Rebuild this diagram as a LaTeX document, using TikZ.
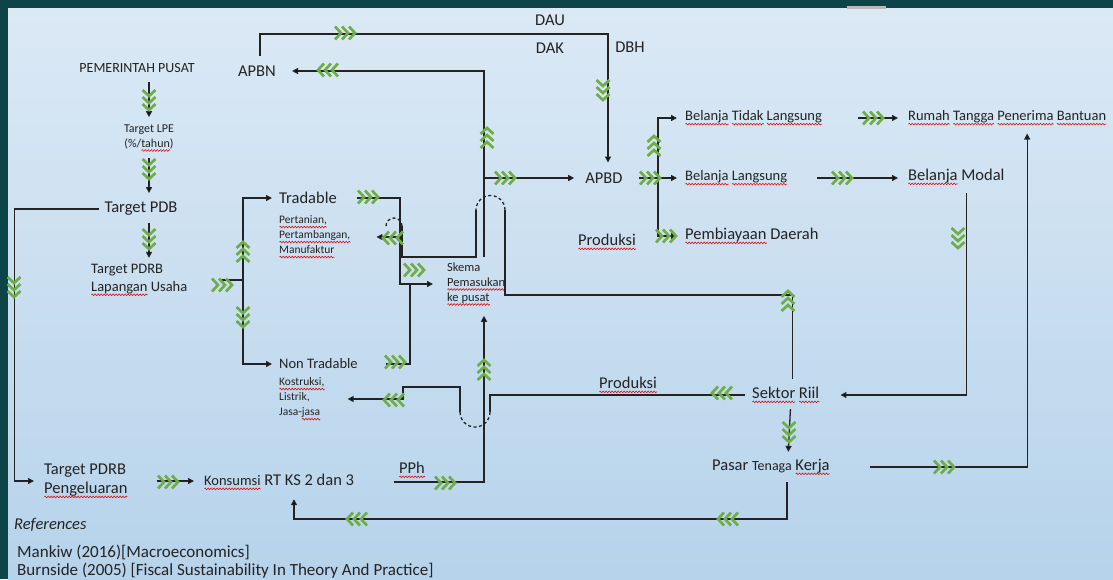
\documentclass[tikz,border=0pt]{standalone}
\usepackage{fontspec}
\setmainfont{Carlito}
\usetikzlibrary{arrows.meta,decorations.pathmorphing}

\definecolor{frame}{RGB}{12,68,72}
\definecolor{chevgreen}{RGB}{112,173,71}
\definecolor{ink}{RGB}{35,35,35}
\definecolor{bgtop}{RGB}{238,244,250}
\definecolor{bgmid}{RGB}{182,211,235}
\definecolor{bgbot}{RGB}{200,222,240}
\pgfdeclareverticalshading{slide}{100bp}{color(0bp)=(bgbot); color(25bp)=(bgmid); color(100bp)=(bgtop)}

% red spell-check wave under a word
\newsavebox{\spellbox}
\newcommand{\spell}[1]{\sbox{\spellbox}{#1}\rlap{\tikz[baseline=0pt]\draw[red!85!black, line width=0.5pt, decorate, decoration={zigzag, segment length=3pt, amplitude=0.9pt}] (0pt,-3.4pt) -- (\wd\spellbox,-3.4pt);}\usebox{\spellbox}}

\tikzset{
  lbl/.style={inner sep=0pt, text=ink, font=\fontsize{16.5}{19}\selectfont},
  lblm/.style={lbl, font=\fontsize{14.5}{18}\selectfont},
  lbls/.style={lbl, font=\fontsize{11.5}{15}\selectfont, align=left},
  flow/.style={draw=ink, line width=1.3pt},
  arr/.style={flow, -{Triangle[length=6pt,width=6pt]}},
  hop/.style={draw=ink, line width=1.3pt, dash pattern=on 3pt off 2.5pt},
  chev/.pic={\foreach \k in {-7,0,7} \draw[chevgreen, line width=2.7pt] (\k-3,-6.5) -- (\k+3,0) -- (\k-3,6.5);}
}

\begin{document}
\begin{tikzpicture}[x=1pt,y=-1pt]
\useasboundingbox (0,0) rectangle (1113,579);

% Slide background
\fill[frame] (0,0) rectangle (1113,579);
\shade[shading=slide] (8,8) rectangle (1113,579);
\fill[gray!55] (847,6) rectangle (886,9);

% Labels
\node[lbl, font=\fontsize{14}{17}\selectfont] (pusat) at (137,68) {PEMERINTAH PUSAT};
\node[lbl, font=\fontsize{12}{15}\selectfont, align=center] (lpe) at (149,138) {Target LPE\\(\%/\spell{tahun})};
\node[lbl] (pdb) at (141,209) {Target PDB};
\node[lblm, anchor=west, align=left] (pdrblu) at (91,280) {Target PDRB\\\spell{Lapangan} Usaha};
\node[lbl, anchor=west, align=left] (pdrbpg) at (44,481) {Target PDRB\\\spell{Pengeluaran}};
\node[lbl] (apbn) at (257,71) {APBN};
\node[lbl] (dau) at (550,20) {DAU};
\node[lbl] (dak) at (550,48) {DAK};
\node[lbl] (dbh) at (630,47) {DBH};
\node[lbl] (apbd) at (604,178) {APBD};
\node[lblm, anchor=west] (btl) at (685,118) {\spell{Belanja} \spell{Tidak} \spell{Langsung}};
\node[lblm, anchor=west] (rtpb) at (908,118) {\spell{Rumah} \spell{Tangga} \spell{Penerima} \spell{Bantuan}};
\node[lblm, anchor=west] (bl) at (685,178) {\spell{Belanja} \spell{Langsung}};
\node[lbl, anchor=west] (bm) at (908,177) {\spell{Belanja} Modal};
\node[lbl, anchor=west] (pd) at (685,236) {\spell{Pembiayaan} Daerah};
\node[lbl, anchor=west] (prod1) at (578,242) {\spell{Produksi}};
\node[lbl, anchor=west] (trad) at (279,198) {Tradable};
\node[lbls, anchor=west] (tradsub) at (279,237) {\spell{Pertanian,}\\\spell{Pertambangan,}\\\spell{Manufaktur}};
\node[lbls, anchor=west, font=\fontsize{12.5}{15}\selectfont] (skema) at (447,284) {Skema\\\spell{Pemasukan}\\\spell{ke pusat}};
\node[lblm, anchor=west] (nontrad) at (279,364) {Non Tradable};
\node[lbls, anchor=west] (ntsub) at (279,399) {\spell{Kostruksi,}\\Listrik,\\Jasa-\spell{jasa}};
\node[lbl, anchor=west] (prod2) at (599,385) {\spell{Produksi}};
\node[lbl, anchor=west] (sektor) at (752,395) {\spell{Sektor} \spell{Riil}};
\node[lbl, anchor=west, font=\fontsize{16.5}{19}\selectfont] (pasar) at (712,467) {Pasar {\fontsize{14}{16}\selectfont Tenaga} \spell{Kerja}};
\node[lbl, anchor=west] (konsumsi) at (204,482) {{\fontsize{14.5}{17}\selectfont\spell{Konsumsi}} RT KS 2 dan 3};
\node[lbl] (pph) at (412,470) {\spell{PPh}};

% References
\node[lbl, anchor=west, font=\fontsize{16.5}{19}\selectfont\itshape] (refs) at (14,525) {References};
\node[lbl, anchor=west, font=\fontsize{17}{19}\selectfont] (ref1) at (17,552) {Mankiw (2016)[Macroeconomics]};
\node[lbl, anchor=west, font=\fontsize{17}{19}\selectfont] (ref2) at (17,571) {Burnside (2005) [Fiscal Sustainability In Theory And Practice]};

% Target chain
\draw[arr, shorten <=9pt, shorten >=7pt] (pusat.south -| lpe.north) -- (lpe.north);
\pic[rotate=-90] at (149,100) {chev};
\draw[arr, shorten <=6pt, shorten >=9pt] (lpe.south) -- (lpe.south |- pdb.north);
\pic[rotate=-90] at (149,169) {chev};
\draw[arr, shorten <=7pt, shorten >=6pt] (pdb.south -| lpe.south) -- (lpe.south |- pdrblu.north);
\pic[rotate=-90] at (149,239) {chev};
\draw[arr, shorten <=5pt, shorten >=10pt] (pdb.west) -- ++(-90,0) |- (pdrbpg.west);
\pic[rotate=-90] at (14,287) {chev};

% Lapangan usaha split
\coordinate (split) at (243,280);
\draw[flow, shorten <=31pt] (pdrblu.east) -- (split);
\draw[arr, shorten >=7pt] (split) |- (trad.west);
\draw[arr, shorten >=7pt] (split) |- (nontrad.west);
\pic at (222,285) {chev};
\pic[rotate=90] at (243,252) {chev};
\pic[rotate=-90] at (243,317) {chev};

% Tradable and Non Tradable into Skema
\coordinate (join) at (400,284);
\draw[arr, shorten <=20pt, shorten >=14pt] (trad.east) -| (join) -- (join -| skema.west);
\draw[flow, shorten <=28pt] (nontrad.east) -| ([xshift=10pt]join);
\pic at (368,197) {chev};
\pic at (414,270) {chev};
\pic at (395,362) {chev};

% Skema to APBN and APBD
\coordinate (sktop) at (484,257);
\draw[arr, shorten >=16pt] (sktop) |- (apbn.east);
\draw[arr, shorten >=11pt] (sktop |- apbd.west) -- (apbd.west);
\pic[rotate=90] at (487,138) {chev};
\pic[rotate=180] at (328,70) {chev};
\pic at (505,178) {chev};

% APBN to APBD
\coordinate (dtop) at (608,34);
\draw[arr, shorten <=10pt, shorten >=10pt] ([xshift=3pt]apbn.north) |- (dtop) -- ([xshift=4pt]apbd.north);
\pic at (345,33) {chev};
\pic[rotate=-90] at (603,90) {chev};

% APBD spending
\coordinate (bj) at (658,178);
\draw[arr, shorten <=16pt, shorten >=8pt] (apbd.east) -- (bl.west);
\draw[arr, shorten >=8pt] (bj) |- (btl.west);
\draw[arr, shorten >=8pt] (bj) |- (pd.west);
\pic at (650,178) {chev};
\pic[rotate=90] at (654,146) {chev};
\pic at (666,236) {chev};
\draw[arr, shorten <=36pt, shorten >=10pt] (btl.east) -- (rtpb.west);
\pic at (873,118) {chev};
\draw[arr, shorten <=30pt, shorten >=10pt] (bl.east) -- (bl.east -| bm.west);
\pic at (842,178) {chev};

% Belanja Modal to Sektor Riil
\draw[arr, shorten <=8pt, shorten >=21pt] ([xshift=10pt]bm.south) |- (sektor.east);
\pic[rotate=-90] at (958,238) {chev};

% Sektor Riil and Pasar Tenaga Kerja
\draw[arr, shorten <=6pt, shorten >=7pt] ([xshift=5pt]sektor.south) -- ([xshift=17pt]pasar.north);
\pic[rotate=-90] at (789,432) {chev};
\draw[arr, shorten <=40pt, shorten >=8pt] (pasar.east) -| ([xshift=20pt]rtpb.south);
\pic at (944,467) {chev};
\coordinate (kret) at (294,519);
\draw[arr, shorten <=7pt, shorten >=9pt] ([xshift=16pt]pasar.south) |- (kret) -- (kret |- konsumsi.south);
\pic[rotate=180] at (728,519) {chev};
\pic[rotate=180] at (357,519) {chev};

% Pengeluaran, Konsumsi and PPh
\draw[arr, shorten <=29pt, shorten >=10pt] (pdrbpg.east) -- (pdrbpg.east -| konsumsi.west);
\pic at (168,482) {chev};
\draw[arr, shorten <=40pt, shorten >=10pt] (konsumsi.east) -| (sktop |- skema.south);
\pic at (445,483) {chev};
\pic[rotate=90] at (484,370) {chev};

% Produksi to Non Tradable
\draw[flow, shorten <=7pt] (sektor.west) -| (490,412);
\draw[hop] (490,412) arc (0:180:15);
\draw[arr, shorten >=23pt] (460,412) |- (403,387) |- (ntsub.east);
\pic[rotate=180] at (722,393) {chev};
\pic[rotate=180] at (394,400) {chev};

% Sektor Riil back to Tradable
\draw[flow, shorten <=8pt] ([xshift=7pt]sektor.north) |- (505,295) -- (505,210);
\draw[hop] (505,210) arc (0:-180:14.5);
\draw[flow] (476,210) |- (402,257) -- (402,226);
\draw[hop] (402,226) arc (0:-180:8);
\draw[arr, shorten >=26pt] (402,237) -- (tradsub.east);
\pic[rotate=180] at (393,238) {chev};
\pic[rotate=90] at (788,301) {chev};
\end{tikzpicture}
\end{document}
